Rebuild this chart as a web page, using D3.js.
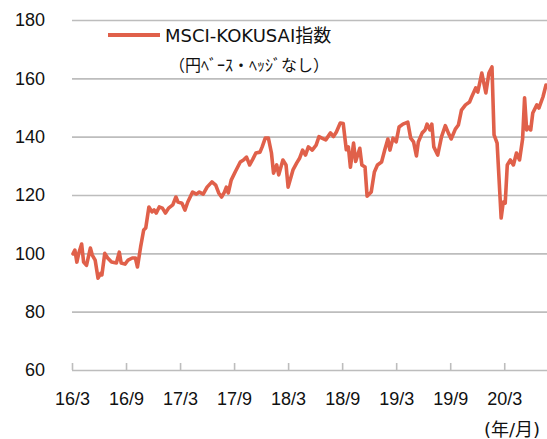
<!DOCTYPE html>
<html>
<head>
<meta charset="utf-8">
<script src="https://cdn.jsdelivr.net/npm/d3@7"></script>
<style>
  body { margin: 0; background: #fff; }
  svg { display: block; font-family: "DejaVu Sans", "Noto Sans CJK JP", sans-serif; }
</style>
</head>
<body>
<svg width="547" height="439"></svg>
<script>
// months since 2016/3
const months = [
    0.11, 0.32, 0.54, 0.75, 1.07, 1.29, 1.61, 2.04, 2.25, 2.57,
    2.89, 3.21, 3.32, 3.64, 3.96, 4.39, 4.93, 5.25, 5.46, 5.89,
    6.23, 6.69, 7.04, 7.27, 7.62, 7.96, 8.19, 8.54, 8.88, 9.12,
    9.35, 9.69, 10.04, 10.38, 10.73, 11.19, 11.54, 11.77, 12.21, 12.54,
    12.86, 13.39, 13.82, 14.14, 14.57, 15.0, 15.54, 15.96, 16.29, 16.61,
    16.93, 17.14, 17.36, 17.68, 18.12, 18.69, 19.04, 19.38, 19.73, 20.08,
    20.42, 20.88, 21.12, 21.46, 21.81, 22.15, 22.38, 22.73, 22.96, 23.42,
    23.77, 24.0, 24.54, 24.96, 25.29, 25.61, 25.93, 26.25, 26.68, 27.11,
    27.43, 27.75, 28.18, 28.71, 29.04, 29.36, 29.79, 30.12, 30.46, 30.69,
    30.92, 31.27, 31.5, 31.96, 32.19, 32.54, 32.77, 33.23, 33.58, 33.92,
    34.38, 34.73, 35.08, 35.31, 35.65, 36.0, 36.32, 36.75, 37.29, 37.61,
    37.93, 38.25, 38.46, 38.89, 39.21, 39.43, 39.75, 39.96, 40.18, 40.61,
    41.04, 41.46, 41.79, 42.11, 42.57, 42.91, 43.25, 43.7, 44.15, 44.38,
    44.83, 45.06, 45.51, 45.96, 46.3, 46.64, 46.87, 47.21, 47.66, 47.89,
    48.11, 48.34, 48.68, 49.02, 49.36, 49.7, 50.04, 50.26, 50.49, 50.72,
    50.94, 51.17, 51.62, 51.85, 52.3, 52.64
];

// MSCI-KOKUSAI (yen, unhedged), rebased
const kokusai = [
    99.8, 101.1, 97, 100, 103.2, 97, 95.9, 101.8, 99.4, 97.7,
    91.5, 93.2, 92.6, 100, 98.4, 97, 96.7, 100.4, 96.7, 96.3,
    97.7, 98.4, 98.4, 95.3, 102.2, 108, 108.7, 115.9, 114.2, 114.9,
    113.8, 115.9, 115.5, 113.8, 115.5, 116.6, 119.3, 117.6, 117.2, 114.8,
    117.6, 121, 120.3, 121, 120.3, 122.7, 124.5, 123.4, 120.7, 119.3,
    121, 122.7, 120.7, 125.1, 127.9, 131.3, 132, 133, 130.3, 132.3,
    134.4, 134.7, 136.5, 139.5, 139.5, 134.4, 127.5, 130.3, 126.9, 132,
    130.3, 122.7, 128.6, 131, 132.7, 135.4, 133.7, 136.5, 135.4, 137.1,
    140, 139.5, 138.9, 141.3, 140, 141.6, 144.7, 144.5, 135.5, 136.5,
    129.5, 137.8, 131.5, 136, 130.3, 129.6, 119.6, 121, 127.9, 130.3,
    131.3, 135.4, 139.2, 135.4, 139.5, 138.2, 143.3, 144.3, 145, 139.5,
    138.2, 133.4, 138.2, 141.3, 142.3, 144.3, 142.3, 144.3, 136.5, 133.7,
    140, 143.8, 141.3, 139.2, 142.6, 144, 149.1, 150.9, 151.9, 153.6,
    156.7, 155.3, 161.8, 155, 161.8, 163.9, 140.6, 137.8, 112.1, 117.6,
    117.2, 130.3, 132, 130.3, 134.4, 132, 139.2, 153.3, 142.3, 143.3,
    142.3, 148.1, 150.9, 149.8, 153.6, 157.7
];

const xTicks = [0, 6, 12, 18, 24, 30, 36, 42, 48];
const xTickLabels = ["16/3", "16/9", "17/3", "17/9", "18/3", "18/9", "19/3", "19/9", "20/3"];
const yTicks = [60, 80, 100, 120, 140, 160, 180];

const lineColor = "#e0604a";
const gridColor = "#bdbdbd";

const svg = d3.select("svg");
const data = months.map((m, i) => ({ m: m, v: kokusai[i] }));

const x = d3.scaleLinear().domain([0, 52.75]).range([72, 547]);
const y = d3.scaleLinear().domain([60, 180]).range([370, 20]);

// horizontal grid + y labels
const yAxis = svg.append("g")
    .attr("transform", `translate(${x.range()[0]},0)`)
    .call(d3.axisLeft(y).tickValues(yTicks).tickSize(-(x.range()[1] - x.range()[0])).tickPadding(27));
yAxis.select(".domain").remove();
yAxis.selectAll("line").attr("stroke", gridColor).attr("stroke-width", 1.6);
yAxis.selectAll("text").attr("font-size", 18).attr("fill", "#111");

// x axis: ticks point up into the plot
const xAxis = svg.append("g")
    .attr("transform", `translate(0,${y(60)})`)
    .call(d3.axisBottom(x).tickValues(xTicks)
        .tickFormat((d, i) => xTickLabels[i])
        .tickSizeInner(-7).tickSizeOuter(0).tickPadding(22));
xAxis.select(".domain").remove();
xAxis.selectAll("line").attr("stroke", gridColor).attr("stroke-width", 1.6);
xAxis.selectAll("text").attr("font-size", 18).attr("fill", "#111");

svg.append("text")
    .attr("x", 540)
    .attr("y", 436)
    .attr("text-anchor", "end")
    .attr("font-size", 18)
    .attr("fill", "#111")
    .text("(年/月)");

// series
svg.append("path")
    .datum(data)
    .attr("fill", "none")
    .attr("stroke", lineColor)
    .attr("stroke-width", 3.6)
    .attr("stroke-linejoin", "round")
    .attr("stroke-linecap", "round")
    .attr("d", d3.line().x(d => x(d.m)).y(d => y(d.v)));

// legend
const legend = svg.append("g");
legend.append("line")
    .attr("x1", 108).attr("x2", 160)
    .attr("y1", 35).attr("y2", 35)
    .attr("stroke", lineColor)
    .attr("stroke-width", 4);
legend.append("text")
    .attr("x", 165)
    .attr("y", 42)
    .attr("font-size", 18)
    .attr("fill", "#111")
    .text("MSCI-KOKUSAI指数");
legend.append("text")
    .attr("x", 249)
    .attr("y", 71)
    .attr("text-anchor", "middle")
    .attr("font-size", 16)
    .attr("fill", "#111")
    .text("（円ﾍﾞｰｽ・ﾍｯｼﾞなし）");
</script>
</body>
</html>
